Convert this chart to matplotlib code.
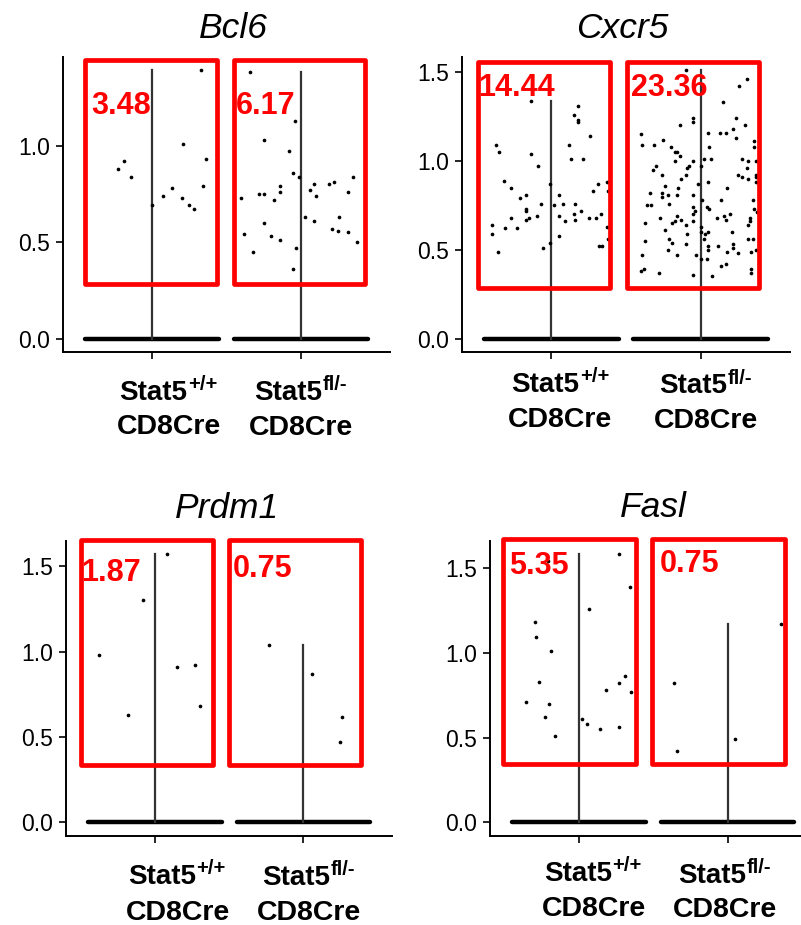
import matplotlib
matplotlib.use("Agg")
import matplotlib.pyplot as plt
from matplotlib.patches import Rectangle
from matplotlib.ticker import MultipleLocator, FormatStrFormatter

plt.rcParams["font.family"] = ["Liberation Sans", "DejaVu Sans"]

# ------------------------------------------------------------------
# Data (expression of non-zero cells; jitter = horizontal offset)
# ------------------------------------------------------------------
GENES = ["Bcl6", "Cxcr5", "Prdm1", "Fasl"]
GROUP_BASE = ["Stat5", "Stat5"]
GROUP_SUP = ["+/+", "fl/-"]
GROUP_LINE2 = ["CD8Cre", "CD8Cre"]
PERCENTS = [["3.48", "6.17"], ["14.44", "23.36"], ["1.87", "0.75"], ["5.35", "0.75"]]

bcl6_wt_jit = [0.33, -0.23, -0.19, -0.14, 0.21, 0.36, 0.34, 0.13, 0.07, 0.20, 0.25, 0.28, 0.00]
bcl6_wt_val = [1.39, 0.88, 0.92, 0.84, 1.01, 0.93, 0.79, 0.78, 0.74, 0.73, 0.69, 0.67, 0.69]
bcl6_ko_jit = [-0.34, -0.04, -0.25, -0.08, -0.05, -0.01, 0.35, 0.22, 0.19, 0.09, 0.06, 0.10,
               0.32, -0.14, -0.14, -0.28, -0.25, -0.40, -0.18, 0.03, 0.09, 0.26, 0.21, 0.25,
               0.32, 0.38, -0.25, -0.38, -0.20, -0.14, -0.32, -0.03, -0.05]
bcl6_ko_val = [1.38, 1.13, 1.03, 0.97, 0.86, 0.84, 0.84, 0.81, 0.80, 0.80, 0.77, 0.74,
               0.76, 0.79, 0.76, 0.75, 0.75, 0.73, 0.72, 0.63, 0.61, 0.63, 0.57, 0.56,
               0.55, 0.50, 0.60, 0.54, 0.53, 0.51, 0.45, 0.47, 0.36]

cxcr5_wt_jit = [-0.14, 0.18, 0.15, 0.18, 0.18, 0.26, -0.37, -0.35, -0.14, 0.12, 0.13, 0.21,
                -0.09, -0.32, -0.27, -0.01, 0.31, 0.37, 0.28, 0.38, -0.17, -0.21, 0.05, -0.07,
                0.08, 0.16, 0.02, -0.17, -0.17, 0.20, -0.10, 0.05, 0.15, 0.33, -0.27, -0.15,
                -0.17, 0.25, 0.30, 0.09, 0.16, -0.40, -0.40, -0.31, -0.23, 0.37, 0.05, 0.38,
                -0.01, -0.06, 0.32, 0.34, -0.36]
cxcr5_wt_val = [1.34, 1.31, 1.26, 1.23, 1.22, 1.14, 1.09, 1.05, 1.04, 1.09, 1.01, 1.01,
                0.97, 0.89, 0.85, 0.87, 0.87, 0.88, 0.83, 0.83, 0.81, 0.79, 0.81, 0.76,
                0.76, 0.76, 0.75, 0.73, 0.72, 0.72, 0.69, 0.69, 0.70, 0.70, 0.68, 0.68,
                0.67, 0.68, 0.68, 0.66, 0.67, 0.64, 0.59, 0.62, 0.62, 0.63, 0.58, 0.56,
                0.54, 0.51, 0.52, 0.52, 0.49]
cxcr5_ko_jit = [-0.10, 0.31, 0.26, 0.15, -0.05, -0.05, -0.14, 0.24, 0.30, 0.22, -0.40, 0.05,
                0.13, 0.17, 0.24, -0.25, -0.39, -0.31, -0.20, 0.06, 0.36, 0.36, -0.17, -0.16,
                -0.14, -0.17, -0.05, 0.02, 0.07, 0.28, 0.32, 0.37, -0.30, -0.08, -0.09, 0.00,
                0.31, -0.32, -0.26, -0.10, 0.25, 0.28, 0.32, 0.37, 0.37, -0.13, 0.05, 0.37,
                -0.02, -0.24, -0.15, 0.18, -0.34, -0.26, -0.26, -0.22, -0.16, -0.05, 0.01, 0.14,
                0.35, -0.36, -0.33, -0.21, -0.05, 0.04, 0.06, -0.04, -0.05, 0.36, 0.38, -0.27,
                -0.16, 0.11, 0.16, 0.17, 0.20, 0.33, -0.13, -0.05, 0.33, -0.17, -0.19, -0.10,
                -0.37, 0.32, -0.24, 0.00, 0.00, 0.03, 0.05, 0.21, -0.09, -0.37, -0.21, -0.19,
                0.02, 0.32, 0.35, -0.10, 0.05, 0.12, 0.22, 0.22, 0.05, -0.22, 0.18, 0.25,
                0.34, 0.37, -0.39, -0.16, -0.03, 0.00, 0.04, 0.17, 0.14, -0.40, -0.38, -0.28,
                -0.05, 0.08, 0.34, 0.34]
cxcr5_ko_val = [1.51, 1.46, 1.42, 1.33, 1.24, 1.22, 1.20, 1.24, 1.20, 1.18, 1.15, 1.16,
                1.16, 1.16, 1.13, 1.12, 1.09, 1.09, 1.08, 1.08, 1.11, 1.08, 1.05, 1.05,
                1.03, 1.00, 1.00, 1.01, 1.01, 1.01, 1.00, 1.00, 0.97, 0.97, 0.96, 0.97,
                0.96, 0.95, 0.92, 0.92, 0.92, 0.91, 0.90, 0.92, 0.91, 0.90, 0.88, 0.88,
                0.87, 0.86, 0.85, 0.85, 0.82, 0.82, 0.80, 0.81, 0.81, 0.81, 0.78, 0.78,
                0.78, 0.75, 0.75, 0.76, 0.74, 0.74, 0.73, 0.72, 0.70, 0.73, 0.71, 0.68,
                0.69, 0.68, 0.69, 0.67, 0.70, 0.68, 0.67, 0.66, 0.66, 0.66, 0.65, 0.64,
                0.65, 0.64, 0.61, 0.63, 0.60, 0.59, 0.60, 0.60, 0.59, 0.55, 0.56, 0.54,
                0.56, 0.56, 0.56, 0.53, 0.52, 0.52, 0.53, 0.51, 0.50, 0.50, 0.49, 0.48,
                0.49, 0.50, 0.47, 0.47, 0.47, 0.45, 0.45, 0.42, 0.41, 0.38, 0.39, 0.37,
                0.36, 0.35, 0.39, 0.37]

prdm1_wt_jit = [0.08, -0.08, -0.38, 0.15, 0.27, 0.30, -0.18]
prdm1_wt_val = [1.57, 1.30, 0.98, 0.91, 0.92, 0.68, 0.63]
prdm1_ko_jit = [-0.23, 0.06, 0.26, 0.25]
prdm1_ko_val = [1.04, 0.87, 0.62, 0.47]

fasl_wt_jit = [0.27, -0.21, 0.34, 0.07, -0.30, -0.29, -0.19, -0.27, 0.31, 0.27, 0.18, 0.35,
               -0.36, -0.20, -0.23, 0.02, 0.05, 0.14, 0.27, -0.16]
fasl_wt_val = [1.58, 1.54, 1.39, 1.26, 1.18, 1.09, 1.01, 0.83, 0.86, 0.82, 0.78, 0.77,
               0.71, 0.70, 0.62, 0.61, 0.58, 0.55, 0.56, 0.51]
fasl_ko_jit = [0.36, -0.36, 0.05, -0.34]
fasl_ko_val = [1.17, 0.82, 0.49, 0.42]

GROUPS = {
    "Bcl6": [(bcl6_wt_jit, bcl6_wt_val), (bcl6_ko_jit, bcl6_ko_val)],
    "Cxcr5": [(cxcr5_wt_jit, cxcr5_wt_val), (cxcr5_ko_jit, cxcr5_ko_val)],
    "Prdm1": [(prdm1_wt_jit, prdm1_wt_val), (prdm1_ko_jit, prdm1_ko_val)],
    "Fasl": [(fasl_wt_jit, fasl_wt_val), (fasl_ko_jit, fasl_ko_val)],
}

# ------------------------------------------------------------------
# Layout (pixels, figure is 801 x 925)
# ------------------------------------------------------------------
W, H = 801, 925
AX_RECTS = [(63, 390, 57, 352), (462, 790, 57, 352),
            (66, 392.4, 541, 835.7), (490, 816.7, 541, 835.7)]   # left, right, top, bottom
TITLE_POS = [(233, 38), (622, 38), (227, 518), (653, 517)]
# red boxes: (x0, x1) offsets from group centre, (y0, y1) in data units
BOXES = [
    [(-0.450, 0.437, 0.284, 1.444), (-0.448, 0.435, 0.284, 1.444)],
    [(-0.491, 0.393, 0.287, 1.556), (-0.491, 0.393, 0.287, 1.556)],
    [(-0.498, 0.393, 0.334, 1.652), (-0.500, 0.388, 0.334, 1.652)],
    [(-0.511, 0.381, 0.346, 1.672), (-0.511, 0.385, 0.346, 1.672)],
]
PCT_POS = [[(-0.41, 1.207), (-0.44, 1.207)],
           [(-0.49, 1.412), (-0.465, 1.412)],
           [(-0.50, 1.46), (-0.475, 1.482)],
           [(-0.47, 1.511), (-0.46, 1.523)]]
# label offsets in px: stat5 left dx, stat5 baseline below axis, CD8Cre centre dx, baseline
LABEL_OFF = [[(-32.7, 48, 17, 82), (-47, 48, 0, 83)],
             [(-40, 40, 9, 75), (-41.4, 41, 5, 76)],
             [(-27.3, 48, 22.7, 84), (-41.3, 49, 6, 84)],
             [(-35.3, 45, 14.5, 80), (-49.4, 47, -2.2, 81)]]

RED = "#ff0000"

fig = plt.figure(figsize=(W / 100, H / 100), dpi=100)

for i, gene in enumerate(GENES):
    l, r, t, b = AX_RECTS[i]
    ax = fig.add_axes([l / W, 1 - b / H, (r - l) / W, (b - t) / H])
    groups = GROUPS[gene]
    ymax = max(max(v) for _, v in groups)

    for g, (jit, val) in enumerate(groups):
        xc = g + 1
        # violin: collapsed at zero, thin spike up to the max
        ax.plot([xc - 0.45, xc + 0.45], [0, 0], color="black", lw=3.2,
                solid_capstyle="round", zorder=2)
        ax.plot([xc, xc], [0, max(val)], color="#333333", lw=1.6, zorder=2)
        ax.scatter([xc + j for j in jit], val, s=7, color="black", lw=0, zorder=3)

        x0, x1, y0, y1 = BOXES[i][g]
        ax.add_patch(Rectangle((xc + x0, y0), x1 - x0, y1 - y0, fill=False,
                               edgecolor=RED, lw=3.4, joinstyle="round",
                               clip_on=False, zorder=4))
        px, py = PCT_POS[i][g]
        ax.text(xc + px, py, PERCENTS[i][g], color=RED, fontsize=22,
                fontweight="bold", ha="left", va="center", zorder=5)

        sdx, sb, cdx, cb = LABEL_OFF[i][g]
        base = ax.annotate(GROUP_BASE[g], xy=(xc, 0), xycoords=("data", "axes fraction"),
                           xytext=(sdx, -sb), textcoords="offset pixels",
                           ha="left", va="baseline", fontsize=20, fontweight="bold",
                           annotation_clip=False)
        ax.annotate(GROUP_SUP[g], xy=(1, 0), xycoords=base,
                    xytext=(0.5, 15.5), textcoords="offset pixels",
                    ha="left", va="baseline", fontsize=14.5, fontweight="bold",
                    annotation_clip=False)
        ax.annotate(GROUP_LINE2[g], xy=(xc, 0), xycoords=("data", "axes fraction"),
                    xytext=(cdx, -cb), textcoords="offset pixels",
                    ha="center", va="baseline", fontsize=20.5, fontweight="bold",
                    annotation_clip=False)

    ax.set_xlim(0.4, 2.6)
    ax.set_ylim(-0.05 * ymax, 1.05 * ymax)
    ax.set_xticks([1, 2])
    ax.set_xticklabels([])
    ax.yaxis.set_major_locator(MultipleLocator(0.5))
    ax.yaxis.set_major_formatter(FormatStrFormatter("%.1f"))
    ax.tick_params(axis="both", length=5, width=1.2, labelsize=16.5, pad=4.5,
                   colors="black")
    for side in ["top", "right"]:
        ax.spines[side].set_visible(False)
    for side in ["left", "bottom"]:
        ax.spines[side].set_linewidth(1.4)

    tx, ty = TITLE_POS[i]
    fig.text(tx / W, 1 - ty / H, gene, fontsize=25.5, fontstyle="italic",
             ha="center", va="baseline")

fig.savefig("out.png", dpi=100)
